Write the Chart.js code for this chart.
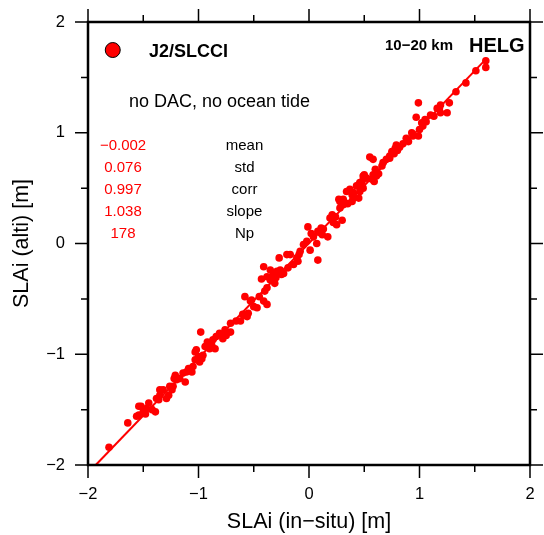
<!DOCTYPE html>
<html>
<head>
<meta charset="utf-8">
<script src="https://cdn.jsdelivr.net/npm/chart.js@4/dist/chart.umd.min.js"></script>
<style>
  html, body { margin: 0; padding: 0; background: #fff; }
  #wrap { width: 544px; height: 535px; }
</style>
</head>
<body>
<div id="wrap"><canvas id="slaChart" width="544" height="535"></canvas></div>
<script>
// in-situ SLA anomaly (x) vs altimetry SLA anomaly (y), metres
var insituX = [
  -1.81, -1.64, -1.54, -1.52, -1.54, -1.56, -1.50, -1.47, -1.45, -1.42,
  -1.39, -1.38, -1.36, -1.35, -1.35, -1.32, -1.27, -1.29, -1.26, -1.23,
  -1.24, -1.21, -1.22, -1.20, -1.17, -1.12, -1.14, -1.11, -1.06, -1.09,
  -1.05, -1.03, -1.00, -1.03, -1.02, -0.99, -0.98, -0.96, -0.97, -0.94,
  -0.90, -0.88, -0.87, -0.84, -0.81, -0.78, -0.76, -0.71, -0.71, -0.75,
  -0.85, -0.58, -0.58, -0.55, -0.50, -0.47, -0.52, -0.41, -0.38, -0.40,
  -0.38, -0.31, -0.35, -0.43, -0.35, -0.29, -0.26, -0.23, -0.41, -0.27,
  -0.20, -0.38, -0.34, -0.32, -0.56, -0.53, -0.60, -0.19, -0.14, -0.17,
  -0.11, -0.08, -0.05, -0.02, 0.01, 0.07, 0.08, 0.02, 0.04, -0.01,
  0.11, 0.08, 0.17, 0.21, 0.24, 0.19, 0.30, 0.25, 0.28, 0.31,
  0.28, 0.39, 0.45, 0.37, 0.40, 0.46, 0.43, 0.49, -0.10, -0.09,
  0.13, 0.10, 0.27, 0.31, 0.34, 0.39, 0.40, 0.45, 0.49, 0.46,
  0.52, 0.48, 0.50, 0.60, 0.58, 0.61, 0.57, 0.55, 0.58, 0.66,
  0.67, 0.73, 0.70, 0.73, 0.75, 0.78, 0.79, 0.88, 0.90, 0.93,
  0.99, 0.94, 1.00, 1.03, 1.06, 1.10, 1.13, 1.16, 0.97, 0.99,
  0.59, 0.63, 0.82, 0.80, 0.77, 1.60, 1.60, 1.51, 1.42, 1.33,
  1.27, 1.25, 1.19, 1.18, 1.19, 1.05, 1.02, -0.45, -0.62, -0.66,
  -0.92, -1.48, 0.12, 0.35, 0.22, -0.30, 0.85, -0.25
];
var altiY = [
  -1.84, -1.62, -1.47, -1.47, -1.55, -1.56, -1.52, -1.49, -1.44, -1.50,
  -1.52, -1.40, -1.41, -1.37, -1.32, -1.32, -1.37, -1.40, -1.29, -1.29,
  -1.32, -1.19, -1.22, -1.23, -1.22, -1.25, -1.17, -1.16, -1.16, -1.13,
  -1.11, -1.05, -1.02, -0.98, -0.96, -1.07, -0.80, -1.01, -1.04, -0.93,
  -0.95, -0.92, -0.87, -0.84, -0.81, -0.86, -0.78, -0.80, -0.72, -0.83,
  -0.95, -0.48, -0.65, -0.63, -0.57, -0.58, -0.51, -0.52, -0.55, -0.43,
  -0.40, -0.36, -0.33, -0.32, -0.24, -0.25, -0.24, -0.27, -0.21, -0.13,
  -0.10, -0.30, -0.31, -0.27, -0.66, -0.52, -0.64, -0.22, -0.19, -0.10,
  -0.13, -0.07, -0.01, 0.02, -0.06, 0.00, -0.15, 0.09, 0.06, 0.15,
  0.14, 0.11, 0.06, 0.26, 0.24, 0.23, 0.21, 0.17, 0.38, 0.35,
  0.32, 0.38, 0.41, 0.49, 0.46, 0.55, 0.52, 0.61, -0.16, -0.10,
  0.13, 0.10, 0.40, 0.40, 0.47, 0.44, 0.41, 0.53, 0.50, 0.47,
  0.59, 0.56, 0.62, 0.67, 0.62, 0.61, 0.58, 0.78, 0.76, 0.70,
  0.73, 0.79, 0.76, 0.77, 0.83, 0.86, 0.89, 0.95, 0.92, 1.00,
  0.97, 0.97, 1.03, 1.06, 1.10, 1.16, 1.15, 1.22, 1.14, 1.27,
  0.56, 0.63, 0.87, 0.84, 0.81, 1.65, 1.59, 1.56, 1.45, 1.37,
  1.27, 1.18, 1.25, 1.22, 1.18, 1.12, 1.09, -0.48, -0.70, -0.70,
  -0.89, -1.54, 0.08, 0.36, 0.19, -0.31, 0.90, -0.28
];

// regression line (slope from the stats box) and its drawn span
var fitSlope = 1.038;
var fitIntercept = 0.003;
var fitRange = [-1.93, 1.61];

var majorTicks = [-2, -1, 0, 1, 2];
var minorTicks = [-1.5, -0.5, 0.5, 1.5];

var statValues = ['\u22120.002', '0.076', '0.997', '1.038', '178'];
var statNames = ['mean', 'std', 'corr', 'slope', 'Np'];

var FONT = '"Liberation Sans", Arial, Helvetica, sans-serif';
var RED = '#ff0000';

function fmtTick(v) {
  if (majorTicks.indexOf(v) < 0) return '';
  return v < 0 ? '\u2212' + Math.abs(v) : String(v);
}

var points = insituX.map(function (x, i) { return { x: x, y: altiY[i] }; });
var fitLine = fitRange.map(function (x) { return { x: x, y: fitSlope * x + fitIntercept }; });

var frameAndText = {
  id: 'frameAndText',
  beforeDraw: function (chart) {
    var ctx = chart.ctx;
    ctx.save();
    ctx.fillStyle = '#fff';
    ctx.fillRect(0, 0, chart.width, chart.height);
    ctx.restore();
  },
  afterDraw: function (chart) {
    var ctx = chart.ctx, a = chart.chartArea;
    var xs = chart.scales.x, ys = chart.scales.y;
    ctx.save();
    // ticks on all four sides, pointing outwards
    ctx.strokeStyle = '#000';
    ctx.lineWidth = 1.5;
    function tickSet(vals, len) {
      vals.forEach(function (v) {
        var px = xs.getPixelForValue(v), py = ys.getPixelForValue(v);
        ctx.beginPath();
        ctx.moveTo(px, a.bottom); ctx.lineTo(px, a.bottom + len);
        ctx.moveTo(px, a.top); ctx.lineTo(px, a.top - len);
        ctx.moveTo(a.left, py); ctx.lineTo(a.left - len, py);
        ctx.moveTo(a.right, py); ctx.lineTo(a.right + len, py);
        ctx.stroke();
      });
    }
    tickSet(majorTicks, 13);
    tickSet(minorTicks, 7);
    // frame
    ctx.lineWidth = 2.5;
    ctx.strokeRect(a.left, a.top, a.right - a.left, a.bottom - a.top);

    // legend symbol and label
    ctx.beginPath();
    ctx.arc(xs.getPixelForValue(-1.776), ys.getPixelForValue(1.747), 7.5, 0, Math.PI * 2);
    ctx.fillStyle = RED;
    ctx.fill();
    ctx.lineWidth = 1;
    ctx.strokeStyle = '#000';
    ctx.stroke();

    ctx.fillStyle = '#000';
    ctx.textBaseline = 'alphabetic';
    ctx.textAlign = 'left';
    ctx.font = 'bold 18px ' + FONT;
    ctx.fillText('J2/SLCCI', xs.getPixelForValue(-1.448), ys.getPixelForValue(1.685));
    ctx.font = 'bold 15px ' + FONT;
    ctx.fillText('10\u221220 km', xs.getPixelForValue(0.688), ys.getPixelForValue(1.747));
    ctx.font = 'bold 20px ' + FONT;
    ctx.fillText('HELG', xs.getPixelForValue(1.448), ys.getPixelForValue(1.731));
    ctx.font = '18px ' + FONT;
    ctx.fillText('no DAC, no ocean tide', xs.getPixelForValue(-1.629), ys.getPixelForValue(1.236));

    // statistics block
    ctx.font = '15px ' + FONT;
    ctx.textAlign = 'center';
    statValues.forEach(function (s, i) {
      var y = ys.getPixelForValue(0.847 - 0.2 * i);
      ctx.fillStyle = RED;
      ctx.fillText(s, xs.getPixelForValue(-1.683), y);
      ctx.fillStyle = '#000';
      ctx.fillText(statNames[i], xs.getPixelForValue(-0.584), y);
    });
    ctx.restore();
  }
};

var slaChart = new Chart(document.getElementById('slaChart'), {
  type: 'scatter',
  data: {
    datasets: [
      {
        label: 'J2/SLCCI',
        data: points,
        pointRadius: 3.8,
        pointBackgroundColor: RED,
        pointBorderWidth: 0,
        showLine: false
      },
      {
        label: 'fit',
        data: fitLine,
        showLine: true,
        borderColor: RED,
        borderWidth: 2,
        pointRadius: 0
      }
    ]
  },
  options: {
    animation: false,
    responsive: false,
    layout: { padding: { left: 0, right: 14, top: 22, bottom: 0 } },
    plugins: {
      legend: { display: false },
      tooltip: { enabled: false }
    },
    scales: {
      x: {
        type: 'linear',
        min: -2, max: 2,
        ticks: {
          stepSize: 1,
          callback: fmtTick,
          color: '#000',
          padding: 7,
          maxRotation: 0,
          font: { family: FONT, size: 16.5 }
        },
        grid: { display: true, drawOnChartArea: false, tickLength: 13, color: 'rgba(0,0,0,0)' },
        border: { display: false },
        title: {
          display: true,
          text: 'SLAi (in\u2212situ) [m]',
          color: '#000',
          font: { family: FONT, size: 21.5 },
          padding: { top: 0, bottom: 0 }
        },
        afterFit: function (s) { s.height = 70; }
      },
      y: {
        type: 'linear',
        min: -2, max: 2,
        ticks: {
          stepSize: 1,
          callback: fmtTick,
          color: '#000',
          padding: 10,
          font: { family: FONT, size: 16.5 }
        },
        grid: { display: true, drawOnChartArea: false, tickLength: 13, color: 'rgba(0,0,0,0)' },
        border: { display: false },
        title: {
          display: true,
          text: 'SLAi (alti) [m]',
          color: '#000',
          font: { family: FONT, size: 21.5 },
          padding: { top: 9, bottom: 0 }
        },
        afterFit: function (s) { s.width = 88; }
      }
    }
  },
  plugins: [frameAndText]
});
</script>
</body>
</html>
